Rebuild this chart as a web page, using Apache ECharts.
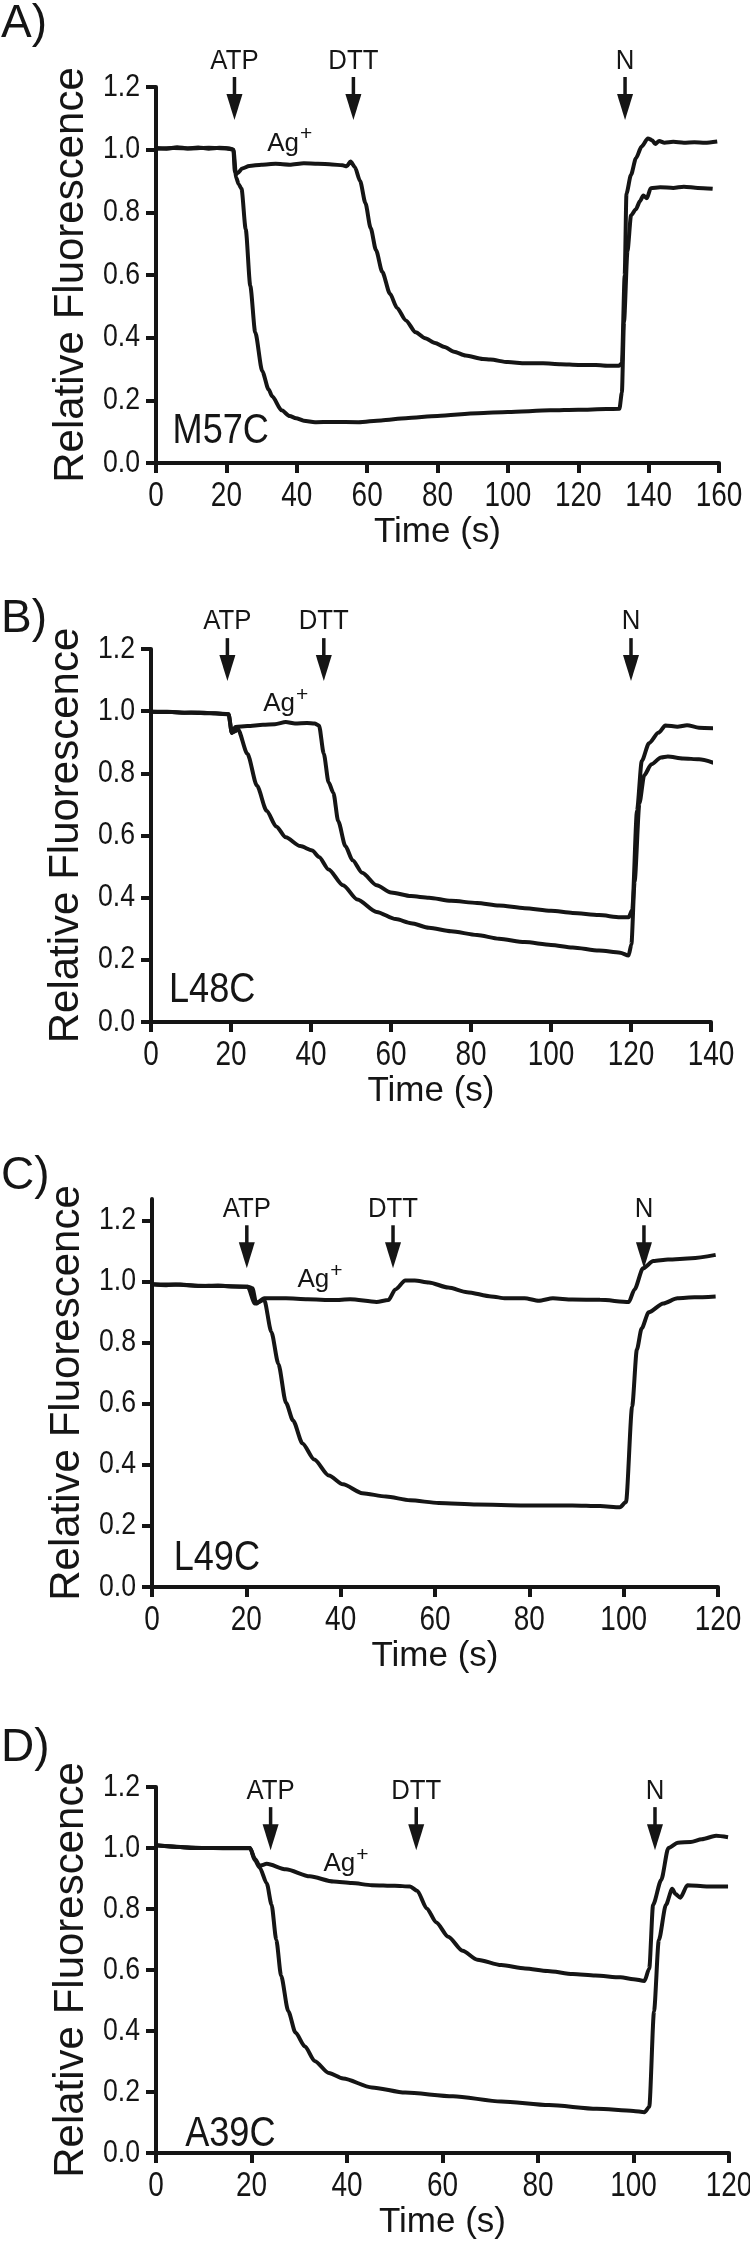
<!DOCTYPE html>
<html>
<head>
<meta charset="utf-8">
<script src="https://cdn.jsdelivr.net/npm/echarts@6/dist/echarts.min.js"></script>
<style>
html,body{margin:0;padding:0;background:#fff;}
#chart{width:750px;height:2267px;}
</style>
</head>
<body>
<div id="chart"></div>
<script>
// ---------- DATA ----------
var panelLetters = ['A)', 'B)', 'C)', 'D)'];
var mutants = ['M57C', 'L48C', 'L49C', 'A39C'];
var xMax = [160, 140, 120, 120];
var yMax = [1.2, 1.2, 1.27, 1.2];
var yTicks = [0, 0.2, 0.4, 0.6, 0.8, 1.0, 1.2];
var xTicks = [
  [0, 20, 40, 60, 80, 100, 120, 140, 160],
  [0, 20, 40, 60, 80, 100, 120, 140],
  [0, 20, 40, 60, 80, 100, 120],
  [0, 20, 40, 60, 80, 100, 120]
];
var eventNames = ['ATP', 'DTT', 'N'];

// event times (s) per panel: ATP, DTT, N
var eventTimes = [
  [22.3, 56.1, 133.3],
  [19.1, 43.2, 120.0],
  [20.1, 51.1, 104.3],
  [24.0, 54.5, 104.5]
];
// arrow label / arrow top / arrow tip levels (relative fluorescence units)
var arrowLevels = [
  [1.283, 1.232, 1.095],
  [1.290, 1.235, 1.097],
  [1.236, 1.184, 1.043],
  [1.187, 1.134, 0.993]
];
// position of "Ag+" label [t, value]
var agLabelPos = [[38, 1.02], [33.7, 1.023], [35.6, 1.004], [39.8, 0.948]];
// position of mutant name [t, value]
var mutantPos = [[4.7, 0.10], [4.5, 0.103], [4.6, 0.092], [6.1, 0.062]];

// Panel A traces
var A_ag = [[0,1.005],[3,1.003],[6,1.008],[9,1.004],[12,1.007],[15,1.003],[18,1.006],[21,1.004],[22,1.0],[22.4,0.93],[23.2,0.925],[24.5,0.94],[26.5,0.948],[30,0.952],[34,0.955],[38,0.952],[42,0.957],[46,0.955],[50,0.953],[53,0.95],[54.2,0.947],[55.3,0.962],[56.5,0.945],[58,0.9],[59.5,0.83],[61,0.75],[62.5,0.68],[64.3,0.61],[66.5,0.54],[68.5,0.495],[71,0.455],[73.8,0.417],[76.5,0.398],[79.3,0.383],[82,0.37],[84.7,0.355],[88,0.343],[92.9,0.332],[95,0.33],[100,0.322],[105,0.318],[110,0.318],[115,0.315],[120,0.313],[125,0.313],[129,0.31],[131.5,0.31],[132.4,0.318],[133.2,0.6],[133.7,0.86],[135,0.92],[136.4,0.973],[138,1.01],[139.8,1.036],[141,1.03],[141.9,1.018],[143,1.028],[144.5,1.022],[147,1.025],[150,1.022],[153,1.024],[156,1.022],[159.5,1.026]];
var A_atp = [[0,1.003],[5,1.005],[10,1.004],[15,1.006],[20,1.004],[22,1.0],[22.8,0.91],[23.5,0.89],[24.3,0.875],[25.5,0.746],[26.8,0.565],[28.2,0.417],[30.2,0.293],[32,0.235],[33,0.213],[35.7,0.168],[38,0.15],[39.8,0.143],[42,0.135],[45.2,0.13],[50,0.131],[57.5,0.13],[64,0.136],[71,0.143],[80,0.15],[91.5,0.159],[100,0.163],[112,0.168],[120,0.17],[128,0.172],[131.7,0.173],[132.4,0.225],[133,0.45],[134,0.678],[135,0.79],[136.4,0.81],[137.5,0.835],[138.5,0.854],[139.5,0.845],[140.6,0.877],[143.3,0.88],[147,0.878],[150,0.882],[154,0.878],[158.2,0.875]];

// Panel B traces
var B_ag = [[0,0.998],[4,0.998],[8,0.995],[12,0.996],[16,0.993],[19.4,0.99],[20.2,0.93],[21.1,0.949],[24.1,0.952],[28,0.956],[31,0.958],[33.7,0.965],[36,0.96],[39,0.962],[40.9,0.96],[42,0.954],[43.2,0.863],[44.4,0.771],[45.6,0.737],[46.8,0.646],[48.6,0.566],[50.4,0.52],[52.8,0.48],[56.4,0.44],[60,0.417],[65,0.405],[69.5,0.4],[75,0.39],[81.5,0.383],[87,0.375],[93.4,0.366],[100,0.358],[105.4,0.351],[112,0.344],[117.3,0.337],[119.4,0.337],[120.3,0.36],[121.5,0.68],[122.7,0.84],[124.5,0.897],[126.9,0.931],[128.6,0.954],[131.6,0.95],[134,0.955],[137,0.947],[140.6,0.945]];
var B_atp = [[0,0.998],[5,0.997],[10,0.995],[15,0.993],[19.4,0.99],[20.2,0.93],[21,0.935],[21.7,0.943],[24.1,0.863],[26.5,0.76],[28.9,0.68],[31.3,0.629],[33.7,0.594],[37.3,0.566],[40.3,0.552],[42,0.531],[44.4,0.491],[48,0.44],[51.6,0.394],[56.4,0.354],[61.2,0.331],[65,0.318],[69.5,0.303],[75,0.292],[81.5,0.28],[87,0.268],[93.4,0.257],[100,0.248],[105.4,0.24],[112,0.23],[117.3,0.223],[119.4,0.214],[120.1,0.25],[120.9,0.451],[122.1,0.703],[123.3,0.794],[125.1,0.829],[127.5,0.851],[129.2,0.854],[133,0.848],[137,0.845],[140.6,0.834]];

// Panel C traces
var C_ag = [[0,0.991],[3,0.988],[6,0.99],[10.1,0.985],[14,0.987],[17,0.984],[20.3,0.983],[21.3,0.978],[22.1,0.928],[23.8,0.945],[28.4,0.945],[33,0.942],[38.5,0.939],[42,0.942],[47.6,0.933],[50.1,0.939],[51.6,0.974],[53.7,1.003],[55.7,1.003],[58.7,0.997],[62.8,0.98],[66.8,0.965],[71.9,0.951],[75,0.945],[79,0.945],[82,0.937],[85,0.945],[89.1,0.941],[95,0.94],[101.1,0.933],[102.3,0.974],[104.1,1.043],[106.3,1.067],[109.4,1.072],[114.4,1.076],[119.5,1.087]];
var C_atp = [[0,0.991],[5,0.99],[10,0.986],[15,0.985],[20.3,0.983],[21.8,0.928],[23.8,0.939],[25.3,0.835],[26.8,0.73],[28.4,0.603],[29.9,0.545],[31.9,0.47],[34.4,0.417],[37.5,0.365],[40.5,0.336],[44.6,0.307],[49.6,0.296],[54.7,0.284],[60.8,0.275],[68.9,0.27],[79,0.267],[89.1,0.267],[95,0.265],[99.2,0.261],[100.5,0.278],[101.8,0.591],[102.8,0.777],[103.8,0.846],[105.3,0.899],[108.4,0.928],[111.4,0.945],[115,0.948],[119.5,0.951]];

// Panel D traces
var D_ag = [[0,1.009],[3,1.006],[7.2,1.0],[12,1.0],[16,0.999],[19.7,1.0],[20.7,0.965],[21.7,0.942],[23.2,0.948],[27.2,0.93],[32.2,0.907],[37.2,0.89],[41,0.885],[45.2,0.878],[50,0.876],[53.2,0.874],[54.7,0.86],[56.7,0.802],[58.7,0.756],[61.2,0.709],[64.2,0.663],[67.3,0.634],[72.3,0.616],[77.3,0.605],[82,0.597],[87.3,0.587],[92,0.582],[97.3,0.576],[100,0.57],[102.3,0.564],[103.3,0.605],[104.1,0.814],[105.8,0.895],[107.3,1.0],[109.3,1.017],[112,1.02],[114.3,1.029],[117.3,1.04],[119.8,1.035]];
var D_atp = [[0,1.009],[5,1.003],[10,1.0],[15,1.0],[19.7,1.0],[20.7,0.96],[21.7,0.936],[23.2,0.884],[24.2,0.814],[25.2,0.698],[26.2,0.581],[27.7,0.465],[29.2,0.395],[31.2,0.349],[33.2,0.302],[36.2,0.262],[39.2,0.244],[45.2,0.215],[52.2,0.198],[62.2,0.186],[72.3,0.169],[82.3,0.157],[92.3,0.145],[100,0.138],[102.3,0.134],[103.3,0.151],[104.3,0.465],[105.3,0.698],[106.8,0.814],[108.1,0.866],[108.8,0.849],[109.8,0.837],[111.3,0.878],[115.3,0.874],[119.8,0.874]];

var traces = [[A_ag, A_atp], [B_ag, B_atp], [C_ag, C_atp], [D_ag, D_atp]];

// ---------- LAYOUT / STYLE ----------
var INK = '#151515';
var SANS = "'Liberation Sans', Arial, sans-serif";
var LW = 4;
var grids = [
  {left: 156, top: 87,   width: 563, height: 376},
  {left: 151, top: 649,  width: 560, height: 373},
  {left: 152, top: 1199, width: 566, height: 388},
  {left: 156, top: 1787, width: 573, height: 366}
];
var letterY = [25, 620, 1177, 1749];

var option = {
  animation: false,
  backgroundColor: '#fff',
  grid: [], xAxis: [], yAxis: [], series: [], graphic: []
};

for (var g = 0; g < 4; g++) {
  option.grid.push(Object.assign({containLabel: false}, grids[g]));
  option.xAxis.push({
    type: 'value', gridIndex: g, min: 0, max: xMax[g], interval: 20,
    name: 'Time (s)', nameLocation: 'middle', nameGap: 52,
    nameTextStyle: {fontFamily: SANS, fontSize: 35, color: INK},
    axisLine: {show: true, onZero: false, lineStyle: {color: INK, width: LW}},
    axisTick: {show: true, inside: false, length: 10, lineStyle: {color: INK, width: LW}},
    axisLabel: {show: false},
    splitLine: {show: false}
  });
  var ya = {
    type: 'value', gridIndex: g, min: 0, max: yMax[g], interval: 0.2,
    name: 'Relative Fluorescence', nameLocation: 'middle', nameGap: 64, nameRotate: 90,
    nameTextStyle: {fontFamily: SANS, fontSize: 42, color: INK},
    axisLine: {show: true, onZero: false, lineStyle: {color: INK, width: LW}},
    axisTick: {show: true, inside: false, length: 10, lineStyle: {color: INK, width: LW}},
    axisLabel: {show: false},
    splitLine: {show: false}
  };
  if (yMax[g] !== 1.2) {
    ya.axisTick.customValues = yTicks;
  }
  option.yAxis.push(ya);

  for (var s = 0; s < 2; s++) {
    option.series.push({
      type: 'line', xAxisIndex: g, yAxisIndex: g, data: traces[g][s],
      showSymbol: false, symbol: 'none', smooth: 0.25, smoothMonotone: 'x',
      lineStyle: {color: INK, width: LW}, z: 3, silent: true
    });
  }

  (function (gi) {
    // condensed tick labels (x axis)
    option.series.push({
      type: 'custom', xAxisIndex: gi, yAxisIndex: gi, clip: false, silent: true, z: 6,
      data: xTicks[gi].map(function (t) { return [t, 0]; }),
      renderItem: function (params, api) {
        var p = api.coord([api.value(0), 0]);
        return {type: 'text', x: p[0], y: p[1] + 16, scaleX: 0.8, style: {
          text: String(api.value(0)), fontFamily: SANS, fontSize: 35, fill: INK,
          align: 'center', verticalAlign: 'top'}};
      }
    });
    // condensed tick labels (y axis)
    option.series.push({
      type: 'custom', xAxisIndex: gi, yAxisIndex: gi, clip: false, silent: true, z: 6,
      data: yTicks.map(function (v) { return [0, v]; }),
      renderItem: function (params, api) {
        var p = api.coord([0, api.value(1)]);
        return {type: 'text', x: p[0] - 16, y: p[1], scaleX: 0.86, style: {
          text: api.value(1).toFixed(1), fontFamily: SANS, fontSize: 31, fill: INK,
          align: 'right', verticalAlign: 'middle'}};
      }
    });
    // arrows + event labels
    var evData = eventTimes[gi].map(function (t) {
      return [t, arrowLevels[gi][0], arrowLevels[gi][1], arrowLevels[gi][2]];
    });
    option.series.push({
      type: 'custom', xAxisIndex: gi, yAxisIndex: gi, clip: false, silent: true, z: 5,
      data: evData,
      renderItem: function (params, api) {
        var t = api.value(0);
        var pl = api.coord([t, api.value(1)]);
        var pt = api.coord([t, api.value(2)]);
        var pp = api.coord([t, api.value(3)]);
        var hh = 26, hw = 8;
        return {type: 'group', children: [
          {type: 'line', shape: {x1: pt[0], y1: pt[1], x2: pp[0], y2: pp[1] - hh + 2},
            style: {stroke: INK, lineWidth: 3.5}},
          {type: 'polygon', shape: {points: [[pp[0] - hw, pp[1] - hh], [pp[0] + hw, pp[1] - hh], [pp[0], pp[1]]]},
            style: {fill: INK}},
          {type: 'text', x: pl[0], y: pl[1], scaleX: 0.92, style: {text: eventNames[params.dataIndex],
            fontFamily: SANS, fontSize: 28, fill: INK, align: 'center', verticalAlign: 'middle'}}
        ]};
      }
    });
    // Ag+ and mutant labels
    option.series.push({
      type: 'custom', xAxisIndex: gi, yAxisIndex: gi, clip: false, silent: true, z: 5,
      data: [agLabelPos[gi], mutantPos[gi]],
      renderItem: function (params, api) {
        var p = api.coord([api.value(0), api.value(1)]);
        if (params.dataIndex === 0) {
          return {type: 'text', x: p[0], y: p[1], style: {
            text: '{a|Ag}{s|+}', align: 'center', verticalAlign: 'middle',
            rich: {
              a: {fontFamily: SANS, fontSize: 26, fill: INK},
              s: {fontFamily: SANS, fontSize: 21, fill: INK, padding: [0, 0, 18, 1]}
            }}};
        }
        return {type: 'text', x: p[0], y: p[1], scaleX: 0.86, style: {
          text: mutants[gi], fontFamily: SANS, fontSize: 42, fill: INK,
          align: 'left', verticalAlign: 'middle'}};
      }
    });
  })(g);

  option.graphic.push({
    type: 'text', left: 1, top: letterY[g] - 24,
    style: {text: panelLetters[g], fontFamily: SANS, fontSize: 46, fill: INK}
  });
}

var chart = echarts.init(document.getElementById('chart'), null, {renderer: 'canvas'});
chart.setOption(option);
</script>
</body>
</html>
